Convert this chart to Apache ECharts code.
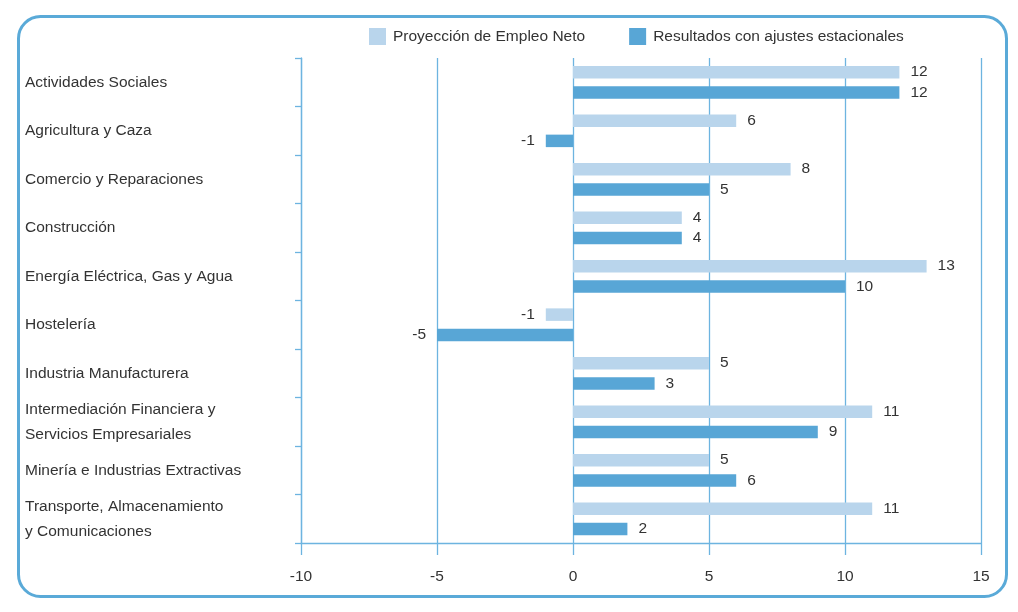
<!DOCTYPE html>
<html><head><meta charset="utf-8">
<script src="https://cdn.jsdelivr.net/npm/echarts@6/dist/echarts.min.js"></script>
<style>html,body{margin:0;padding:0;background:#fff}#c{width:1018px;height:612px}</style>
</head><body><div id="c"></div>
<script>
const categories = [
  'Actividades Sociales',
  'Agricultura y Caza',
  'Comercio y Reparaciones',
  'Construcción',
  'Energía Eléctrica, Gas y Agua',
  'Hostelería',
  'Industria Manufacturera',
  'Intermediación Financiera y\nServicios Empresariales',
  'Minería e Industrias Extractivas',
  'Transporte, Almacenamiento\ny Comunicaciones'
];
const proyeccion = [12, 6, 8, 4, 13, -1, 5, 11, 5, 11];
const ajustados = [12, -1, 5, 4, 10, -5, 3, 9, 6, 2];
const seriesNames = ['Proyección de Empleo Neto', 'Resultados con ajustes estacionales'];

const lineColor = '#6db4e0';
const txt = '#333333';
const toData = arr => arr.map(v => ({ value: v, label: { position: v < 0 ? 'left' : 'right' } }));

const chart = echarts.init(document.getElementById('c'));
chart.setOption({
  animation: false,
  textStyle: { fontFamily: '"Liberation Sans", Arial, sans-serif' },
  graphic: [{
    type: 'rect', left: 16, top: 14,
    shape: { width: 988, height: 580, r: 22 },
    style: { fill: 'none', stroke: '#5aaad8', lineWidth: 3 }
  }],
  legend: {
    top: 23, left: 364,
    itemWidth: 17, itemHeight: 17, itemGap: 44,
    icon: 'rect',
    textStyle: { fontSize: 15.5, color: txt, padding: [0, 0, 0, 2] },
    data: seriesNames
  },
  grid: { left: 301, right: 37, top: 58, bottom: 69, containLabel: false },
  xAxis: {
    type: 'value', min: -10, max: 15, interval: 5,
    axisLine: { show: true, lineStyle: { color: lineColor, width: 1.3 } },
    axisTick: { show: true, length: 12, lineStyle: { color: lineColor, width: 1.3 } },
    axisLabel: { color: txt, fontSize: 15.5, margin: 26 },
    splitLine: { show: true, lineStyle: { color: lineColor, width: 1.3 } }
  },
  yAxis: {
    type: 'category', data: categories, inverse: true,
    axisLine: { show: true, onZero: false, lineStyle: { color: lineColor, width: 1.3 } },
    axisTick: { show: true, length: 6, lineStyle: { color: lineColor, width: 1.3 } },
    axisLabel: { color: txt, fontSize: 15.5, align: 'left', margin: 276, lineHeight: 25 }
  },
  series: [
    {
      name: seriesNames[0], type: 'bar', data: toData(proyeccion),
      barWidth: 12.5, barGap: '62%',
      itemStyle: { color: '#b9d5ec' },
      label: { show: true, distance: 11, color: txt, fontSize: 15.5 }
    },
    {
      name: seriesNames[1], type: 'bar', data: toData(ajustados),
      barWidth: 12.5, barGap: '62%',
      itemStyle: { color: '#58a6d6' },
      label: { show: true, distance: 11, color: txt, fontSize: 15.5 }
    }
  ]
});
</script></body></html>
